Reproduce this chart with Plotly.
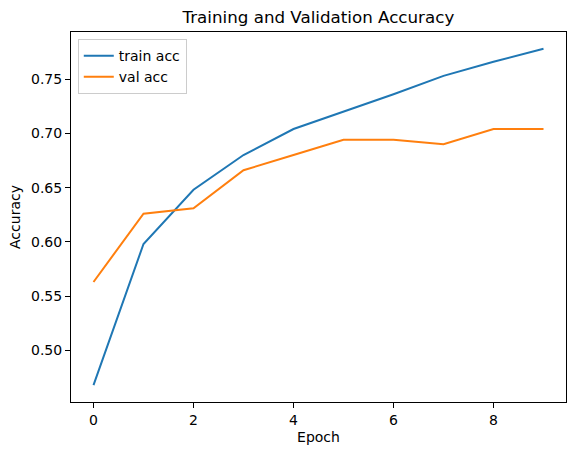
import plotly.graph_objects as go

epochs = [0, 1, 2, 3, 4, 5, 6, 7, 8, 9]
train_acc = [0.468, 0.598, 0.648, 0.680, 0.704, 0.720, 0.736, 0.753, 0.766, 0.778]
val_acc = [0.563, 0.626, 0.631, 0.666, 0.680, 0.694, 0.694, 0.690, 0.704, 0.704]
y_ticks = [0.50, 0.55, 0.60, 0.65, 0.70, 0.75]
x_ticks = [0, 2, 4, 6, 8]

FONT = "DejaVu Sans"

fig = go.Figure()
fig.add_trace(go.Scatter(x=epochs, y=train_acc, mode="lines", name="train acc",
                         line=dict(color="#1f77b4", width=2)))
fig.add_trace(go.Scatter(x=epochs, y=val_acc, mode="lines", name="val acc",
                         line=dict(color="#ff7f0e", width=2)))

axis_common = dict(showgrid=False, zeroline=False, showline=True, mirror=True,
                   linecolor="black", linewidth=1, ticks="outside", ticklen=5,
                   tickwidth=1, tickcolor="black", automargin=False,
                   tickfont=dict(family=FONT, size=14, color="black"))

fig.update_layout(
    width=576, height=455, autosize=False,
    margin=dict(l=70.5, r=9.7, t=32.3, b=52.7, pad=0),
    paper_bgcolor="white", plot_bgcolor="white",
    font=dict(family=FONT, size=14, color="black"),
    title=dict(text="Training and Validation Accuracy", x=(70.5 + 566.3) / 2 / 576,
               xanchor="center", y=1 - 17 / 455, yanchor="middle", automargin=False,
               font=dict(family=FONT, size=16.7, color="black")),
    xaxis=dict(range=[-0.45, 9.45], tickvals=x_ticks,
               title=dict(text="Epoch", standoff=5, font=dict(family=FONT, size=14)),
               **axis_common),
    yaxis=dict(range=[0.4524, 0.7934], tickvals=y_ticks, tickformat=".2f",
               title=dict(text="Accuracy", standoff=7, font=dict(family=FONT, size=14)),
               **axis_common),
    legend=dict(x=0.0137, y=0.981, xanchor="left", yanchor="top",
                bgcolor="rgba(255,255,255,0.8)", bordercolor="#cccccc", borderwidth=1,
                font=dict(family=FONT, size=14)),
    showlegend=True,
)

fig.write_html("out.html", config={"displayModeBar": False},
               post_script="document.body.style.margin='0';document.body.style.padding='0';")
